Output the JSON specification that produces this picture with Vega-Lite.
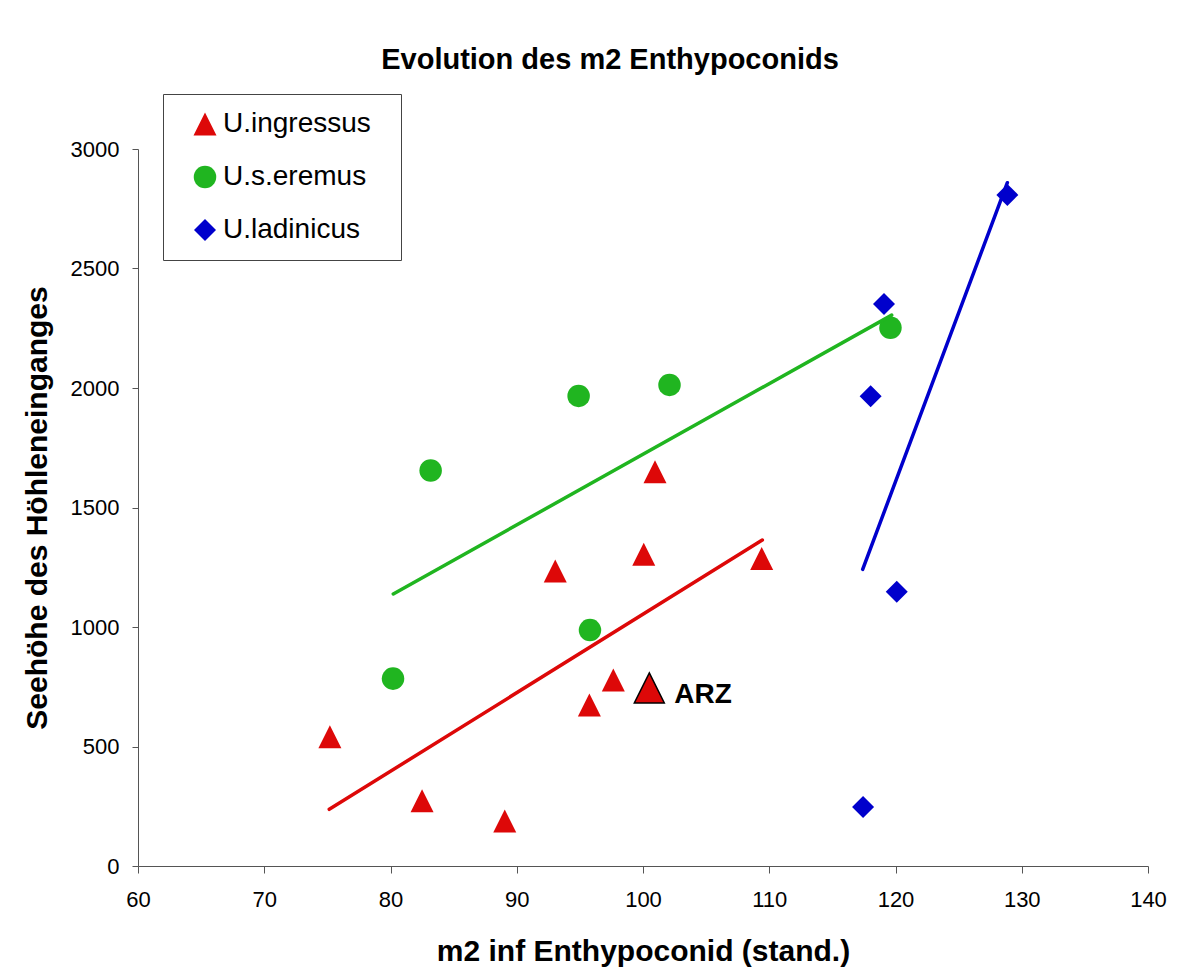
{
  "$schema": "https://vega.github.io/schema/vega-lite/v6.json",
  "width": 1010,
  "height": 717,
  "autosize": {"type": "none"},
  "padding": {"left": 138, "top": 149, "right": 36, "bottom": 106},
  "background": "white",
  "title": {
    "text": "Evolution des m2 Enthypoconids",
    "font": "Liberation Sans",
    "fontSize": 29,
    "fontWeight": "bold",
    "color": "black",
    "anchor": "middle",
    "frame": "group",
    "baseline": "alphabetic",
    "offset": -4,
    "dx": -33
  },
  "datasets": {
    "points": [
      {"species": "U.ingressus", "x": 75.2, "y": 541},
      {"species": "U.ingressus", "x": 82.5, "y": 273},
      {"species": "U.ingressus", "x": 89.05, "y": 188},
      {"species": "U.ingressus", "x": 93.05, "y": 1234},
      {"species": "U.ingressus", "x": 95.75, "y": 674},
      {"species": "U.ingressus", "x": 97.65, "y": 778},
      {"species": "U.ingressus", "x": 100.06, "y": 1304},
      {"species": "U.ingressus", "x": 100.95, "y": 1650},
      {"species": "U.ingressus", "x": 109.4, "y": 1287},
      {"species": "U.s.eremus", "x": 80.2, "y": 784},
      {"species": "U.s.eremus", "x": 83.18, "y": 1655},
      {"species": "U.s.eremus", "x": 94.9, "y": 1967},
      {"species": "U.s.eremus", "x": 95.8, "y": 987},
      {"species": "U.s.eremus", "x": 102.1, "y": 2013},
      {"species": "U.s.eremus", "x": 119.6, "y": 2252},
      {"species": "U.ladinicus", "x": 117.43, "y": 247},
      {"species": "U.ladinicus", "x": 118.03, "y": 1966},
      {"species": "U.ladinicus", "x": 119.09, "y": 2351},
      {"species": "U.ladinicus", "x": 120.1, "y": 1148},
      {"species": "U.ladinicus", "x": 128.86, "y": 2808}
    ],
    "trend": [
      {"species": "U.ingressus", "x": 75.15, "y": 237},
      {"species": "U.ingressus", "x": 109.45, "y": 1364},
      {"species": "U.s.eremus", "x": 80.22, "y": 1138},
      {"species": "U.s.eremus", "x": 119.7, "y": 2305},
      {"species": "U.ladinicus", "x": 117.4, "y": 1241},
      {"species": "U.ladinicus", "x": 128.86, "y": 2859}
    ],
    "arz": [
      {"label": "ARZ", "x": 100.5, "y": 745}
    ]
  },
  "encoding": {
    "x": {
      "field": "x",
      "type": "quantitative",
      "scale": {"domain": [60, 140], "nice": false, "zero": false},
      "axis": {
        "title": "m2 inf Enthypoconid (stand.)",
        "values": [60, 70, 80, 90, 100, 110, 120, 130, 140],
        "format": "d",
        "labelFlush": false,
        "grid": false,
        "tickSize": 7,
        "labelPadding": 16,
        "titlePadding": 26
      }
    },
    "y": {
      "field": "y",
      "type": "quantitative",
      "scale": {"domain": [0, 3000], "nice": false},
      "axis": {
        "title": "Seehöhe des Höhleneinganges",
        "values": [0, 500, 1000, 1500, 2000, 2500, 3000],
        "format": "d",
        "labelFlush": false,
        "grid": false,
        "tickSize": 6,
        "labelPadding": 13,
        "titlePadding": 18
      }
    }
  },
  "layer": [
    {
      "data": {"name": "points"},
      "mark": {"type": "point", "filled": true, "opacity": 1, "strokeWidth": 0},
      "encoding": {
        "color": {
          "field": "species",
          "type": "nominal",
          "scale": {"domain": ["U.ingressus", "U.s.eremus", "U.ladinicus"], "range": ["#DD0808", "#20B520", "#0000CC"]},
          "legend": {"title": " ", "titleOrient": "right", "titlePadding": 14, "titleFontSize": 8}
        },
        "shape": {
          "field": "species",
          "type": "nominal",
          "scale": {"domain": ["U.ingressus", "U.s.eremus", "U.ladinicus"], "range": ["M0,-1L1,1L-1,1Z", "circle", "diamond"]},
          "legend": {"title": " ", "titleOrient": "right", "titlePadding": 14, "titleFontSize": 8}
        },
        "size": {
          "field": "species",
          "type": "nominal",
          "scale": {"domain": ["U.ingressus", "U.s.eremus", "U.ladinicus"], "range": [529, 484, 560]},
          "legend": null
        }
      }
    },
    {
      "data": {"name": "trend"},
      "mark": {"type": "line", "strokeWidth": 3.5, "strokeCap": "round"},
      "encoding": {
        "detail": {"field": "species", "type": "nominal"},
        "stroke": {
          "field": "species",
          "type": "nominal",
          "scale": {"domain": ["U.ingressus", "U.s.eremus", "U.ladinicus"], "range": ["#DD0808", "#20B520", "#0000CC"]},
          "legend": null
        }
      }
    },
    {
      "data": {"name": "arz"},
      "mark": {"type": "point", "filled": true, "opacity": 1, "shape": "M0,-1L1,1L-1,1Z", "size": 900, "fill": "#DD0808", "stroke": "black", "strokeWidth": 1.5},
      "encoding": {}
    },
    {
      "data": {"name": "arz"},
      "mark": {"type": "text", "align": "left", "baseline": "alphabetic", "dx": 25, "dy": 15, "fontSize": 28, "fontWeight": "bold", "font": "Liberation Sans", "color": "black"},
      "encoding": {"text": {"field": "label", "type": "nominal"}}
    }
  ],
  "config": {
    "font": "Liberation Sans",
    "view": {"stroke": null},
    "axis": {
      "domainColor": "#555555",
      "domainWidth": 1,
      "tickColor": "#555555",
      "tickWidth": 1,
      "labelFont": "Liberation Sans",
      "labelFontSize": 22,
      "labelColor": "black",
      "titleFont": "Liberation Sans",
      "titleFontSize": 30,
      "titleFontWeight": "bold",
      "titleColor": "black"
    },
    "legend": {
      "orient": "none",
      "legendX": 25,
      "legendY": -55,
      "padding": 16,
      "symbolOffset": 12,
      "labelOffset": 4,
      "rowPadding": 25,
      "labelFont": "Liberation Sans",
      "labelFontSize": 28,
      "labelColor": "black",
      "symbolSize": 400,
      "symbolStrokeWidth": 0,
      "strokeColor": "#444444",
      "fillColor": "white"
    }
  }
}
